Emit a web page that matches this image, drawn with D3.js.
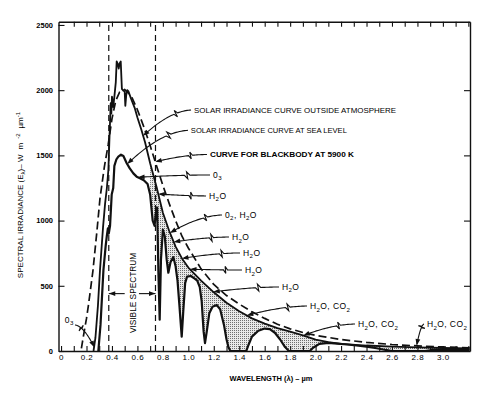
<!DOCTYPE html>
<html><head><meta charset="utf-8">
<script src="https://cdn.jsdelivr.net/npm/d3@7"></script>
<style>
html,body{margin:0;padding:0;background:#fff;}
svg{display:block;background:#fff;}
text{font-family:"Liberation Sans", Arial, sans-serif; fill:#000;}
</style></head><body>
<svg id="chart" width="484" height="395"></svg>
<script>
// ---------- data (wavelength µm, irradiance W m^-2 µm^-1) ----------
const blackbody5900K = [[0.16,20],[0.175,110],[0.2,250],[0.215,350],[0.25,610],[0.28,900],[0.306,1170],[0.34,1410],[0.37,1580],[0.40,1780],[0.43,1920],[0.46,1985],[0.50,2005],[0.55,1960],[0.60,1850],[0.65,1720],[0.70,1575],[0.75,1420],[0.80,1270],[0.85,1130],[0.90,1000],[0.95,880],[1.00,790],[1.10,630],[1.20,510],[1.30,425],[1.40,360],[1.50,300],[1.60,250],[1.70,205],[1.80,170],[1.90,142],[2.00,120],[2.20,88],[2.40,66],[2.60,50],[2.80,39],[3.00,31],[3.21,25]];

const outsideAtmosphere = [[0.255,0],[0.27,100],[0.29,350],[0.306,620],[0.33,950],[0.346,1130],[0.36,1250],[0.372,1390],[0.38,1620],[0.39,1900],[0.395,1820],[0.40,1950],[0.41,1870],[0.42,1960],[0.43,2060],[0.437,2220],[0.446,2200],[0.453,2165],[0.46,2205],[0.469,2220],[0.478,2010],[0.49,1995],[0.50,1990],[0.505,1880],[0.512,1960],[0.52,2000],[0.53,1990],[0.55,1935],[0.58,1860],[0.60,1790],[0.63,1700],[0.66,1600],[0.70,1440],[0.75,1260],[0.80,1060],[0.85,920],[0.90,800],[0.95,710],[1.00,640],[1.05,590],[1.10,540],[1.20,450],[1.30,370],[1.40,305],[1.50,250],[1.60,210],[1.70,175],[1.80,148],[1.90,120],[2.00,88],[2.10,68],[2.20,55],[2.40,42],[2.60,34],[2.80,28],[3.00,23],[3.21,19]];

const seaLevel = [[0.293,0],[0.31,200],[0.333,620],[0.35,800],[0.359,877],[0.368,940],[0.375,900],[0.385,960],[0.398,1200],[0.41,1250],[0.419,1420],[0.435,1470],[0.45,1490],[0.471,1505],[0.49,1495],[0.516,1440],[0.54,1400],[0.568,1362],[0.594,1337],[0.62,1325],[0.65,1310],[0.68,1280],[0.70,1200],[0.71,1100],[0.72,1000],[0.735,960],[0.745,1060],[0.755,1100],[0.765,600],[0.775,240],[0.785,700],[0.80,930],[0.815,880],[0.83,700],[0.843,600],[0.86,680],[0.882,720],[0.90,650],[0.915,540],[0.93,350],[0.948,110],[0.96,300],[0.975,520],[0.99,570],[1.02,575],[1.05,555],[1.07,540],[1.09,490],[1.105,380],[1.12,150],[1.131,60],[1.145,150],[1.165,290],[1.19,340],[1.223,353],[1.25,320],[1.28,200],[1.30,90],[1.314,33],[1.33,0],[1.455,0],[1.47,40],[1.50,110],[1.55,155],[1.60,172],[1.64,168],[1.68,140],[1.72,90],[1.76,30],[1.79,0],[1.955,0],[1.98,25],[2.03,55],[2.10,62],[2.17,57],[2.25,50],[2.32,42],[2.40,33],[2.48,21],[2.55,8],[2.60,0],[2.86,0],[2.90,6],[3.00,10],[3.10,9],[3.21,7]];

const visibleSpectrum = [0.375, 0.742];
const shadeFrom = 0.70;

const xTickValues = d3.range(0, 33).map(i => i / 10);
const xLabelValues = [0,0.2,0.4,0.6,0.8,1.0,1.2,1.4,1.6,1.8,2.0,2.2,2.4,2.6,2.8,3.0];
const xTickLabels = ["0","0.2","0.4","0.6","0.8","1.0","1.2","1.4","1.6","1.8","2.0","2.2","2.4","2.6","2.8","3.0"];
const yTickValues = [0,500,1000,1500,2000,2500];
const yTickLabels = ["0","500","1000","1500","2000","2500"];

// annotation layout (label anchor in data units, arrow target on a curve)
const annotations = [
  {label:"SOLAR IRRADIANCE CURVE OUTSIDE ATMOSPHERE", at:[1.045,1825], curve:"outside", lam:0.645, len:202},
  {label:"SOLAR IRRADIANCE CURVE AT SEA LEVEL", at:[1.02,1669], curve:"sea", lam:0.52, len:156},
  {label:"CURVE FOR BLACKBODY AT 5900 K", at:[1.17,1484], curve:"bb", lam:0.74, len:144, bold:true},
  {label:"0_3", at:[1.194,1327], curve:"sea", lam:0.605},
  {label:"H_2O", at:[1.163,1166], curve:"outside", lam:0.764},
  {label:"0_2, H_2O", at:[1.288,1020], curve:"outside", lam:0.856},
  {label:"H_2O", at:[1.343,851], curve:"outside", lam:0.885},
  {label:"H_2O", at:[1.43,729], curve:"outside", lam:0.95},
  {label:"H_2O", at:[1.445,598], curve:"outside", lam:1.013},
  {label:"H_2O", at:[1.736,468], curve:"outside", lam:1.196},
  {label:"H_2O, CO_2", at:[1.956,322], curve:"outside", lam:1.459},
  {label:"H_2O, CO_2", at:[2.333,184], curve:"outside", lam:1.903},
  {label:"H_2O, CO_2", at:[2.875,184], point:[2.794,42]},
  {label:"0_3", at:[0.03,215], point:[0.262,28], fromRight:true}
];

// ---------- scales ----------
const svg = d3.select("#chart");
const x = d3.scaleLinear().domain([-0.02, 3.213]).range([58.5, 470]);
const y = d3.scaleLinear().domain([0, 2525]).range([351, 21.7]);
const curves = {outside: outsideAtmosphere, sea: seaLevel, bb: blackbody5900K};
function valueAt(series, lam){
  if (lam <= series[0][0]) return series[0][1];
  for (let i = 1; i < series.length; i++){
    const a = series[i-1], b = series[i];
    if (lam <= b[0]) { const t = (lam - a[0]) / (b[0] - a[0]); return a[1] + t * (b[1] - a[1]); }
  }
  return series[series.length-1][1];
}

// stipple pattern
const defs = svg.append("defs");
const pat = defs.append("pattern").attr("id","stipple").attr("width",2).attr("height",2).attr("patternUnits","userSpaceOnUse");
pat.append("rect").attr("width",2).attr("height",2).attr("fill","#e8e8e8");
pat.append("rect").attr("width",1).attr("height",1).attr("fill","#6e6e6e");

const line = d3.line().x(d => x(d[0])).y(d => y(d[1]));

// shaded absorption region between outside and sea-level curves
const shadePoly = outsideAtmosphere.filter(d => d[0] >= shadeFrom)
  .concat(seaLevel.filter(d => d[0] >= shadeFrom).slice().reverse());
svg.append("path").attr("d", line(shadePoly) + "Z").attr("fill","url(#stipple)").attr("stroke","none");

// visible spectrum dashed verticals
svg.selectAll("line.vis").data(visibleSpectrum).join("line").attr("class","vis")
  .attr("x1", d => x(d)).attr("x2", d => x(d)).attr("y1", y(0)).attr("y2", y(2525))
  .attr("stroke","#111").attr("stroke-width",1.2).attr("stroke-dasharray","6,4");

// curves
svg.append("path").attr("d", line(blackbody5900K)).attr("fill","none").attr("stroke","#111")
  .attr("stroke-width",1.7).attr("stroke-dasharray","8,4");
svg.append("path").attr("d", line(outsideAtmosphere)).attr("fill","none").attr("stroke","#111")
  .attr("stroke-width",1.8).attr("stroke-linejoin","round");
svg.append("path").attr("d", line(seaLevel)).attr("fill","none").attr("stroke","#111")
  .attr("stroke-width",2.2).attr("stroke-linejoin","round");

// axes
const axStyle = g => { g.selectAll(".domain").attr("stroke","#111").attr("stroke-width",1.4);
  g.selectAll(".tick line").attr("stroke","#111").attr("stroke-width",1.1); };
svg.append("g").attr("transform",`translate(0,${y(0)})`)
  .call(d3.axisBottom(x).tickValues(xTickValues).tickSize(-5).tickSizeOuter(0).tickPadding(3)
    .tickFormat(d => { const i = xLabelValues.findIndex(v => Math.abs(v - d) < 1e-6); return i >= 0 ? xTickLabels[i] : ""; }))
  .call(axStyle)
  .call(g => g.selectAll("text").attr("font-size",8).attr("letter-spacing",0.5).attr("fill","#000")
    .attr("font-family","Liberation Sans, Arial, sans-serif"));
svg.append("g").attr("transform",`translate(0,${y(2525)})`)
  .call(d3.axisTop(x).tickValues(xTickValues.slice(1)).tickSize(-5).tickSizeOuter(0).tickFormat(""))
  .call(axStyle);
svg.append("g").attr("transform",`translate(${x(-0.02)},0)`)
  .call(d3.axisLeft(y).tickValues(yTickValues).tickSize(-6).tickSizeOuter(0).tickPadding(5.5)
    .tickFormat((d,i) => yTickLabels[i]))
  .call(axStyle)
  .call(g => g.selectAll("text").attr("font-size",7.5).attr("font-weight","bold").attr("fill","#000")
    .attr("font-family","Liberation Sans, Arial, sans-serif"));
svg.append("g").attr("transform",`translate(${x(3.213)},0)`)
  .call(d3.axisRight(y).tickValues(yTickValues.slice(1,5)).tickSize(-6).tickSizeOuter(0).tickFormat(""))
  .call(axStyle);

// axis titles
const yt = svg.append("text").attr("transform","translate(23,195) rotate(-90)")
  .attr("text-anchor","middle").attr("font-size",8);
yt.append("tspan").text("SPECTRAL IRRADIANCE (E");
yt.append("tspan").attr("font-size",6).attr("dy",2).text("λ");
yt.append("tspan").attr("dy",-2).text(")\u2013 W");
yt.append("tspan").attr("dx",5).text("m");
yt.append("tspan").attr("font-size",6).attr("dy",-3.5).attr("dx",4).text("-2");
yt.append("tspan").attr("dy",3.5).attr("dx",5).text("µm");
yt.append("tspan").attr("font-size",6).attr("dy",-3.5).text("-1");

svg.append("text").attr("x",271).attr("y",381).attr("text-anchor","middle")
  .attr("font-size",7.5).attr("font-weight","bold").text("WAVELENGTH (λ) \u2013 µm");

// visible spectrum label + arrows
const visMid = 0.562;
svg.append("text").attr("transform",`translate(${x(visMid)+3.5},${y(445)}) rotate(-90)`)
  .attr("text-anchor","middle").attr("font-size",8.3).text("VISIBLE SPECTRUM");
function arrowHead(T, v){
  const L = Math.hypot(v[0], v[1]); const u = [v[0]/L, v[1]/L], n = [-u[1], u[0]];
  const b = [T[0]-u[0]*6.5, T[1]-u[1]*6.5];
  svg.append("path").attr("d",`M${T[0]},${T[1]}L${b[0]+n[0]*2.4},${b[1]+n[1]*2.4}L${b[0]-n[0]*2.4},${b[1]-n[1]*2.4}Z`)
    .attr("fill","#111");
}
[[0.50, visibleSpectrum[0]], [0.612, visibleSpectrum[1]]].forEach(([a,b]) => {
  svg.append("line").attr("x1",x(a)).attr("x2",x(b)).attr("y1",y(440)).attr("y2",y(440))
    .attr("stroke","#111").attr("stroke-width",1.1);
  arrowHead([x(b), y(440)], [x(b)-x(a), 0]);
});

// annotation labels with lightning arrows
function addLabel(g, label, fs){
  const parts = label.split(/(_\d)/).filter(s => s.length);
  let sub = false;
  parts.forEach(p => {
    if (p[0] === "_") { g.append("tspan").attr("font-size",fs*0.72).attr("dy",2.5).text(p.slice(1)); sub = true; }
    else { const t = g.append("tspan").text(p); if (sub) { t.attr("dy",-2.5); sub = false; } }
  });
}
function drawArrow(S, T){
  const K = [T[0] + (S[0]-T[0])*0.55, S[1] + (T[1]-S[1])*0.05];
  const bez = t => [(1-t)*(1-t)*S[0]+2*(1-t)*t*K[0]+t*t*T[0], (1-t)*(1-t)*S[1]+2*(1-t)*t*K[1]+t*t*T[1]];
  const tz = 0.3, tz2 = 0.38;
  const A = bez(tz), A2 = bez(tz2);
  const L = Math.hypot(A2[0]-A[0], A2[1]-A[1]) || 1;
  const u = [(A2[0]-A[0])/L, (A2[1]-A[1])/L], n = [-u[1], u[0]];
  const Z1 = [A[0]+u[0]*L*0.6+n[0]*3.5, A[1]+u[1]*L*0.6+n[1]*3.5];
  const Z2 = [A[0]+u[0]*L*0.4-n[0]*3.5, A[1]+u[1]*L*0.4-n[1]*3.5];
  const pts = d3.range(0,11).map(i => bez(tz*i/10)).concat([Z1, Z2])
    .concat(d3.range(0,21).map(i => bez(tz2 + (0.97-tz2)*i/20)));
  svg.append("path").attr("d", d3.line()(pts)).attr("fill","none").attr("stroke","#111")
    .attr("stroke-width",1.1).attr("stroke-linejoin","miter");
  arrowHead(T, [T[0]-K[0], T[1]-K[1]]);
}
annotations.forEach(a => {
  const fs = a.len ? 8 : 8.5;
  const t = svg.append("text").attr("x", x(a.at[0])).attr("y", y(a.at[1])).attr("font-size", fs)
    .attr("letter-spacing", a.len ? 0 : 0.4);
  if (a.bold) t.attr("font-weight","bold");
  addLabel(t, a.label, fs);
  if (a.len) t.attr("textLength", a.len).attr("lengthAdjust","spacingAndGlyphs");
  const bb = t.node().getBBox();
  const S = a.fromRight ? [bb.x + bb.width + 1, y(a.at[1]) + 2] : [x(a.at[0]) - 3, y(a.at[1]) - 3];
  const T = a.point ? [x(a.point[0]), y(a.point[1])] : [x(a.lam), y(valueAt(curves[a.curve], a.lam))];
  drawArrow(S, T);
});
</script></body></html>
